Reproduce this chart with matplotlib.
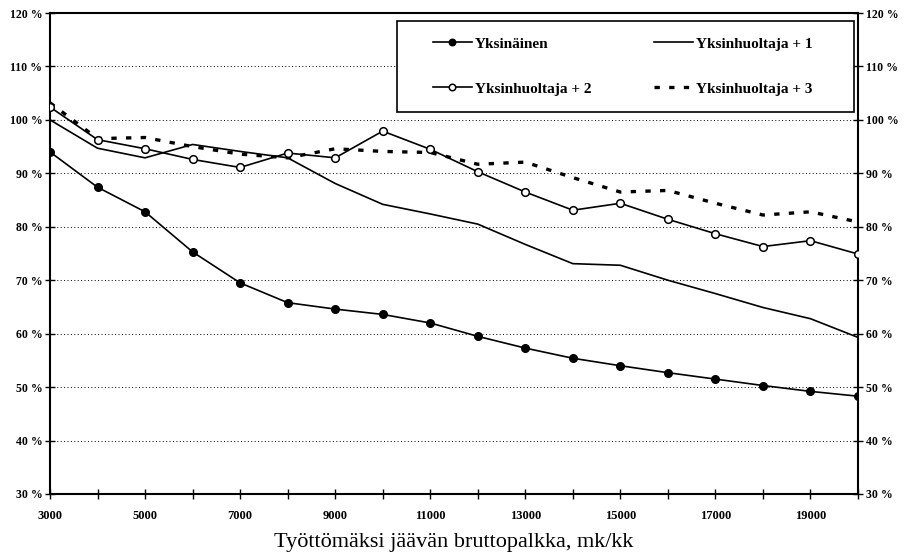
import numpy as np
import matplotlib
matplotlib.use("Agg")
import matplotlib.pyplot as plt
from matplotlib.patches import Rectangle
from matplotlib.ticker import FixedLocator, FuncFormatter

# palkka, mk/kk
palkka = list(range(3000, 21000, 1000))

# korvausaste, %
yksinainen = [94.0, 87.4, 82.8, 75.3, 69.5, 65.8, 64.6, 63.6, 62.0, 59.5,
              57.3, 55.4, 54.0, 52.7, 51.5, 50.3, 49.2, 48.3]
huoltaja1 = [100.0, 94.7, 92.9, 95.4, 94.1, 92.9, 88.1, 84.2, 82.4, 80.5,
             76.7, 73.1, 72.8, 70.0, 67.5, 64.9, 62.8, 59.3]
huoltaja2 = [102.4, 96.3, 94.6, 92.6, 91.1, 93.8, 92.9, 97.9, 94.5, 90.3,
             86.5, 83.1, 84.4, 81.4, 78.7, 76.3, 77.4, 74.9]
huoltaja3 = [103.2, 96.5, 96.7, 95.0, 93.6, 92.9, 94.6, 94.1, 93.9, 91.7,
             92.1, 89.2, 86.5, 86.8, 84.4, 82.2, 82.8, 80.9]

y_ticks = list(range(30, 130, 10))
x_labels = list(range(3000, 20000, 2000))

W, H = 909, 559
fig = plt.figure(figsize=(W / 100, H / 100), dpi=100)
ax = fig.add_axes([50 / W, 1 - 494 / H, 808 / W, 481 / H])

serif = "Liberation Serif"

l1, = ax.plot(palkka, yksinainen, color="black", lw=1.2, marker="o", ms=5.5,
              mfc="black", mec="black", label="Yksinäinen", zorder=4)
l2, = ax.plot(palkka, huoltaja1, color="black", lw=1.2,
              label="Yksinhuoltaja + 1", zorder=3)
l3, = ax.plot(palkka, huoltaja2, color="black", lw=1.2, marker="o", ms=5.5,
              mfc="white", mec="black", mew=1.1, label="Yksinhuoltaja + 2", zorder=4)
l4, = ax.plot(palkka, huoltaja3, color="black", lw=2.4, linestyle=(0, (1.6, 2.8)),
              label="Yksinhuoltaja + 3", zorder=3)

ax.set_xlim(3000, 20000)
ax.set_ylim(30, 120)

ax.yaxis.set_major_locator(FixedLocator(y_ticks))
ax.yaxis.set_major_formatter(FuncFormatter(lambda v, p: f"{int(v)} %"))
ax.xaxis.set_major_locator(FixedLocator(x_labels))
ax.xaxis.set_minor_locator(FixedLocator(palkka))

for g in y_ticks[1:-1]:
    ax.axhline(g, color="black", lw=0.7, linestyle=(0, (1, 2.5)), zorder=1)

ax.tick_params(axis="y", which="both", direction="inout", length=7, width=1,
               right=True, labelright=True, labelsize=8.5, pad=2)
ax.tick_params(axis="x", which="both", direction="inout", length=7, width=1,
               labelsize=9, pad=8)
for lab in ax.get_xticklabels() + ax.get_yticklabels():
    lab.set_fontfamily(serif)
    lab.set_fontweight("bold")

for s in ax.spines.values():
    s.set_linewidth(1.5)

ax.set_xlabel("Työttömäksi jäävän bruttopalkka, mk/kk", fontfamily=serif,
              fontsize=16, labelpad=8)

# legend box
box = Rectangle((397 / W, 1 - 112 / H), 457 / W, 91 / H, transform=fig.transFigure,
                facecolor="white", edgecolor="black", lw=1.2, zorder=5)
ax.add_patch(box)
box.set_clip_on(False)

leg = ax.legend([l1, l3, l2, l4],
                ["Yksinäinen", "Yksinhuoltaja + 2", "Yksinhuoltaja + 1", "Yksinhuoltaja + 3"],
                ncol=2, loc="upper left", bbox_to_anchor=(433 / W, 1 - 37 / H),
                bbox_transform=fig.transFigure, frameon=False,
                prop={"family": serif, "weight": "bold", "size": 11},
                handlelength=2.55, columnspacing=4.1, labelspacing=2.05,
                borderpad=0, borderaxespad=0, handletextpad=0.2, markerscale=0.85)
leg.set_zorder(6)

fig.savefig("out.png", dpi=100)
